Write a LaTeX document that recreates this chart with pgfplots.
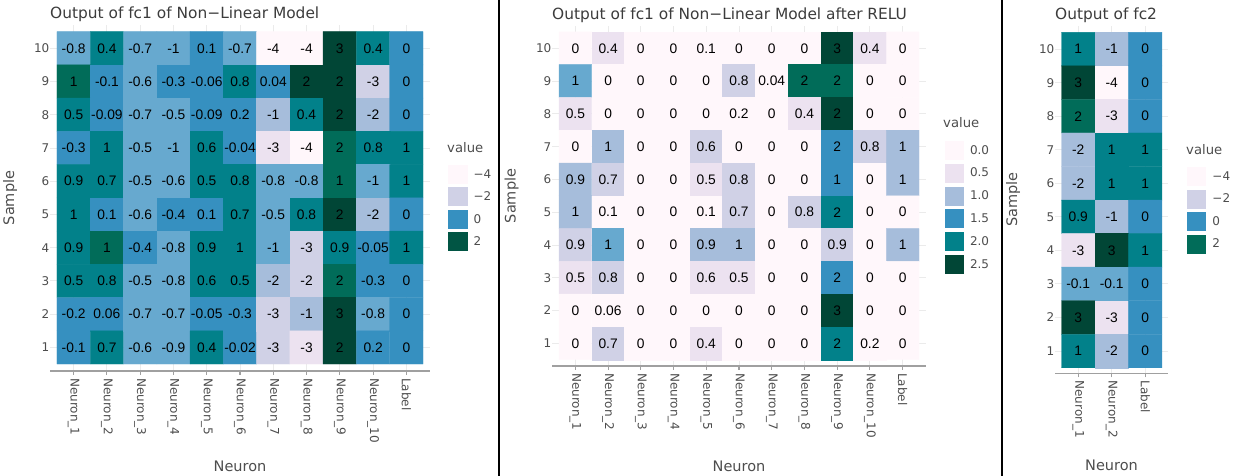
\documentclass[border=0pt]{standalone}
\usepackage{pgfplots}
\usepackage{pgfplotstable}
\pgfplotsset{compat=1.18}
\usepackage{fontspec}
\setmainfont{DejaVu Sans}
\newfontfamily\cellfont{Liberation Sans}

\definecolor{txt}{HTML}{4D4D4D}
\definecolor{ttl}{HTML}{3C3C3C}
\definecolor{gridc}{HTML}{EBEBEB}
\definecolor{axc}{HTML}{A0A0A0}
\definecolor{cA}{HTML}{FFF7FB}
\definecolor{cB}{HTML}{ECE2F0}
\definecolor{cC}{HTML}{D0D1E6}
\definecolor{cD}{HTML}{A6BDDB}
\definecolor{cE}{HTML}{67A9CF}
\definecolor{cF}{HTML}{3690C0}
\definecolor{cG}{HTML}{02818A}
\definecolor{cH}{HTML}{016C59}
\definecolor{cI}{HTML}{014636}

% fc1 output: c = estimated value (drives colour), lab = printed value
\pgfplotstableread[row sep=\\]{
x y c lab\\
1 10 -0.8 -0.8\\ 2 10 0.4 0.4\\ 3 10 -0.7 -0.7\\ 4 10 -0.95 -1\\ 5 10 0.1 0.1\\ 6 10 -0.7 -0.7\\ 7 10 -4 -4\\ 8 10 -4 -4\\ 9 10 3 3\\ 10 10 0.4 0.4\\ 11 10 0 0\\
1 9 1.25 1\\ 2 9 -0.1 -0.1\\ 3 9 -0.6 -0.6\\ 4 9 -0.3 -0.3\\ 5 9 -0.06 -0.06\\ 6 9 0.8 0.8\\ 7 9 0.04 0.04\\ 8 9 2.25 2\\ 9 9 2.25 2\\ 10 9 -2.6 -3\\ 11 9 0 0\\
1 8 0.5 0.5\\ 2 8 -0.09 -0.09\\ 3 8 -0.7 -0.7\\ 4 8 -0.5 -0.5\\ 5 8 -0.09 -0.09\\ 6 8 0.2 0.2\\ 7 8 -1.2 -1\\ 8 8 0.4 0.4\\ 9 8 2.45 2\\ 10 8 -1.8 -2\\ 11 8 0 0\\
1 7 -0.3 -0.3\\ 2 7 1.0 1\\ 3 7 -0.5 -0.5\\ 4 7 -0.95 -1\\ 5 7 0.63 0.6\\ 6 7 -0.04 -0.04\\ 7 7 -3.0 -3\\ 8 7 -4 -4\\ 9 7 1.5 2\\ 10 7 0.8 0.8\\ 11 7 1 1\\
1 6 0.93 0.9\\ 2 6 0.7 0.7\\ 3 6 -0.5 -0.5\\ 4 6 -0.6 -0.6\\ 5 6 0.5 0.5\\ 6 6 0.84 0.8\\ 7 6 -0.8 -0.8\\ 8 6 -0.8 -0.8\\ 9 6 1.4 1\\ 10 6 -0.95 -1\\ 11 6 1 1\\
1 5 1.0 1\\ 2 5 0.1 0.1\\ 3 5 -0.6 -0.6\\ 4 5 -0.4 -0.4\\ 5 5 0.1 0.1\\ 6 5 0.7 0.7\\ 7 5 -0.5 -0.5\\ 8 5 0.8 0.8\\ 9 5 2.0 2\\ 10 5 -1.8 -2\\ 11 5 0 0\\
1 4 0.87 0.9\\ 2 4 1.2 1\\ 3 4 -0.4 -0.4\\ 4 4 -0.8 -0.8\\ 5 4 0.93 0.9\\ 6 4 1.0 1\\ 7 4 -0.95 -1\\ 8 4 -2.6 -3\\ 9 4 0.87 0.9\\ 10 4 -0.05 -0.05\\ 11 4 1 1\\
1 3 0.5 0.5\\ 2 3 0.8 0.8\\ 3 3 -0.5 -0.5\\ 4 3 -0.8 -0.8\\ 5 3 0.58 0.6\\ 6 3 0.5 0.5\\ 7 3 -1.8 -2\\ 8 3 -2.3 -2\\ 9 3 1.5 2\\ 10 3 -0.3 -0.3\\ 11 3 0 0\\
1 2 -0.2 -0.2\\ 2 2 0.06 0.06\\ 3 2 -0.7 -0.7\\ 4 2 -0.7 -0.7\\ 5 2 -0.05 -0.05\\ 6 2 -0.3 -0.3\\ 7 2 -2.6 -3\\ 8 2 -1.2 -1\\ 9 2 3 3\\ 10 2 -0.8 -0.8\\ 11 2 0 0\\
1 1 -0.1 -0.1\\ 2 1 0.7 0.7\\ 3 1 -0.6 -0.6\\ 4 1 -0.9 -0.9\\ 5 1 0.4 0.4\\ 6 1 -0.02 -0.02\\ 7 1 -2.6 -3\\ 8 1 -3.0 -3\\ 9 1 2.0 2\\ 10 1 0.2 0.2\\ 11 1 0 0\\
}\fcone

% fc1 output after RELU
\pgfplotstableread[row sep=\\]{
x y c lab\\
1 10 0 0\\ 2 10 0.4 0.4\\ 3 10 0 0\\ 4 10 0 0\\ 5 10 0.1 0.1\\ 6 10 0 0\\ 7 10 0 0\\ 8 10 0 0\\ 9 10 3 3\\ 10 10 0.4 0.4\\ 11 10 0 0\\
1 9 1.25 1\\ 2 9 0 0\\ 3 9 0 0\\ 4 9 0 0\\ 5 9 0 0\\ 6 9 0.8 0.8\\ 7 9 0.04 0.04\\ 8 9 2.25 2\\ 9 9 2.25 2\\ 10 9 0 0\\ 11 9 0 0\\
1 8 0.5 0.5\\ 2 8 0 0\\ 3 8 0 0\\ 4 8 0 0\\ 5 8 0 0\\ 6 8 0.2 0.2\\ 7 8 0 0\\ 8 8 0.4 0.4\\ 9 8 2.45 2\\ 10 8 0 0\\ 11 8 0 0\\
1 7 0 0\\ 2 7 1.0 1\\ 3 7 0 0\\ 4 7 0 0\\ 5 7 0.63 0.6\\ 6 7 0 0\\ 7 7 0 0\\ 8 7 0 0\\ 9 7 1.5 2\\ 10 7 0.8 0.8\\ 11 7 1 1\\
1 6 0.93 0.9\\ 2 6 0.7 0.7\\ 3 6 0 0\\ 4 6 0 0\\ 5 6 0.5 0.5\\ 6 6 0.84 0.8\\ 7 6 0 0\\ 8 6 0 0\\ 9 6 1.4 1\\ 10 6 0 0\\ 11 6 1 1\\
1 5 1.0 1\\ 2 5 0.1 0.1\\ 3 5 0 0\\ 4 5 0 0\\ 5 5 0.1 0.1\\ 6 5 0.7 0.7\\ 7 5 0 0\\ 8 5 0.8 0.8\\ 9 5 2.0 2\\ 10 5 0 0\\ 11 5 0 0\\
1 4 0.87 0.9\\ 2 4 1.2 1\\ 3 4 0 0\\ 4 4 0 0\\ 5 4 0.93 0.9\\ 6 4 1.0 1\\ 7 4 0 0\\ 8 4 0 0\\ 9 4 0.87 0.9\\ 10 4 0 0\\ 11 4 1 1\\
1 3 0.5 0.5\\ 2 3 0.8 0.8\\ 3 3 0 0\\ 4 3 0 0\\ 5 3 0.58 0.6\\ 6 3 0.5 0.5\\ 7 3 0 0\\ 8 3 0 0\\ 9 3 1.5 2\\ 10 3 0 0\\ 11 3 0 0\\
1 2 0 0\\ 2 2 0.06 0.06\\ 3 2 0 0\\ 4 2 0 0\\ 5 2 0 0\\ 6 2 0 0\\ 7 2 0 0\\ 8 2 0 0\\ 9 2 3 3\\ 10 2 0 0\\ 11 2 0 0\\
1 1 0 0\\ 2 1 0.7 0.7\\ 3 1 0 0\\ 4 1 0 0\\ 5 1 0.4 0.4\\ 6 1 0 0\\ 7 1 0 0\\ 8 1 0 0\\ 9 1 2.0 2\\ 10 1 0.2 0.2\\ 11 1 0 0\\
}\fcrelu

% fc2 output
\pgfplotstableread[row sep=\\]{
x y c lab\\
1 10 1 1\\ 2 10 -1 -1\\ 3 10 0 0\\
1 9 3 3\\ 2 9 -4 -4\\ 3 9 0 0\\
1 8 2 2\\ 2 8 -3 -3\\ 3 8 0 0\\
1 7 -2 -2\\ 2 7 1 1\\ 3 7 1 1\\
1 6 -2 -2\\ 2 6 1 1\\ 3 6 1 1\\
1 5 0.9 0.9\\ 2 5 -1 -1\\ 3 5 0 0\\
1 4 -3 -3\\ 2 4 3 3\\ 3 4 1 1\\
1 3 -0.1 -0.1\\ 2 3 -0.1 -0.1\\ 3 3 0 0\\
1 2 3 3\\ 2 2 -3 -3\\ 3 2 0 0\\
1 1 1 1\\ 2 1 -2 -2\\ 3 1 0 0\\
}\fctwo

\pgfplotsset{
  colormap={mapone}{color(0pt)=(cA) color(10pt)=(cA) color(14pt)=(cB) color(22pt)=(cB)
    color(26pt)=(cC) color(36pt)=(cC) color(40pt)=(cD) color(60pt)=(cD)
    color(61pt)=(cE) color(70pt)=(cE) color(71pt)=(cF) color(85pt)=(cF)
    color(87pt)=(cG) color(101pt)=(cG) color(103pt)=(cH) color(112pt)=(cH)
    color(116pt)=(cI) color(150pt)=(cI)},
  colormap={maprelu}{color(0pt)=(cA) color(10pt)=(cA) color(14pt)=(cB) color(24pt)=(cB)
    color(25pt)=(cC) color(35pt)=(cC) color(36pt)=(cD) color(44pt)=(cD)
    color(46pt)=(cE) color(52pt)=(cE) color(55pt)=(cF) color(68pt)=(cF)
    color(72pt)=(cG) color(84pt)=(cG) color(88pt)=(cH) color(94pt)=(cH)
    color(97pt)=(cI) color(128pt)=(cI)},
  colormap={maptwo}{color(0pt)=(cA) color(10pt)=(cA) color(14pt)=(cB) color(28pt)=(cB)
    color(30pt)=(cC) color(36pt)=(cC) color(38pt)=(cD) color(62pt)=(cD)
    color(64pt)=(cE) color(78pt)=(cE) color(79pt)=(cF) color(86pt)=(cF)
    color(90pt)=(cG) color(104pt)=(cG) color(110pt)=(cH) color(124pt)=(cH)
    color(130pt)=(cI) color(150pt)=(cI)},
  heat/.style={
    scale only axis, anchor=south west, clip=false,
    axis x line*=bottom, axis y line*=left,
    x axis line style={draw=axc, line width=1.3pt},
    y axis line style={draw=none},
    tick align=outside, major tick length=4pt,
    xtick style={draw=axc, line width=1.1pt},
    ytick style={draw=none},
    xmajorgrids, ymajorgrids,
    major grid style={draw=gridc, line width=0.9pt},
    ytick={1,...,10},
    yticklabels={1,2,3,4,5,6,7,8,9,10},
    tick label style={font=\fontsize{12}{14}\selectfont, text=txt},
    xticklabel style={rotate=-90, anchor=west, inner sep=0pt},
    xticklabel shift=3pt,
    yticklabel style={anchor=east, inner sep=0pt, xshift=3.5pt},
    xlabel=Neuron, ylabel=Sample,
    label style={font=\fontsize{14.5}{17}\selectfont, text=txt},
    title style={font=\fontsize{15.4}{18}\selectfont, text=ttl,
      at={(axis description cs:0,1)}, anchor=base west, inner sep=0pt, yshift=0.5pt},
    point meta=explicit,
    legend style={draw=none, fill=none, anchor=north west, inner sep=0pt, outer sep=0pt,
      column sep=6pt, font=\fontsize{12}{14}\selectfont, text=txt, nodes={inner sep=0pt}},
    legend cell align=left,
    legend image code/.code={\path[##1, draw=none] (0pt,-9.5pt) rectangle (19.5pt,9.5pt);},
  },
  cellnum/.style={only marks, mark=none, forget plot, point meta=explicit symbolic,
    nodes near coords,
    nodes near coords style={anchor=center, inner sep=0pt, text=black,
      font=\cellfont\fontsize{13.8}{16}\selectfont}},
}

\begin{document}
\begin{tikzpicture}
\useasboundingbox (0pt,0pt) rectangle (1235pt,476pt);

\begin{axis}[heat, at={(50pt,105pt)}, width=380pt, height=346pt,
  xmin=0.29, xmax=11.71, ymin=0.29, ymax=10.7,
  xtick={1,...,11},
  xticklabels={Neuron\_1,Neuron\_2,Neuron\_3,Neuron\_4,Neuron\_5,Neuron\_6,Neuron\_7,Neuron\_8,Neuron\_9,Neuron\_10,Label},
  colormap name=mapone, point meta min=-4, point meta max=3.5,
  title={Output of fc1 of Non−Linear Model},
  xlabel style={at={(axis description cs:0.5,0)}, anchor=base, yshift=-101pt},
  ylabel style={at={([xshift=-36pt]axis description cs:0,0.5)}, anchor=base},
  legend style={at={(axis description cs:1.0474,0.5954)}, row sep=3.5pt},
]
\addplot[matrix plot*, mesh/cols=11, forget plot] table[x=x, y=y, meta=c] {\fcone};
\addplot[cellnum] table[x=x, y=y, meta=lab] {\fcone};
\addlegendimage{fill=cA}\addlegendentry{−4}
\addlegendimage{fill=cC}\addlegendentry{−2}
\addlegendimage{fill=cF}\addlegendentry{0}
\addlegendimage{fill=cI!60!cH}\addlegendentry{2}
\end{axis}

\begin{axis}[heat, at={(552pt,110pt)}, width=374pt, height=340pt,
  xmin=0.286, xmax=11.714, ymin=0.308, ymax=10.68,
  xtick={1,...,11},
  xticklabels={Neuron\_1,Neuron\_2,Neuron\_3,Neuron\_4,Neuron\_5,Neuron\_6,Neuron\_7,Neuron\_8,Neuron\_9,Neuron\_10,Label},
  colormap name=maprelu, point meta min=0, point meta max=3.2,
  title={Output of fc1 of Non−Linear Model after RELU},
  xlabel style={at={(axis description cs:0.5,0)}, anchor=base, yshift=-106pt},
  ylabel style={at={([xshift=-36.5pt]axis description cs:0,0.5)}, anchor=base},
  legend style={at={(axis description cs:1.0508,0.6618)}, row sep=3.8pt},
  legend image code/.code={\path[#1, draw=none] (0pt,-9.5pt) rectangle (19pt,9.5pt);},
]
\addplot[matrix plot*, mesh/cols=11, forget plot] table[x=x, y=y, meta=c] {\fcrelu};
\addplot[cellnum] table[x=x, y=y, meta=lab] {\fcrelu};
\addlegendimage{fill=cA}\addlegendentry{0.0}
\addlegendimage{fill=cB}\addlegendentry{0.5}
\addlegendimage{fill=cD}\addlegendentry{1.0}
\addlegendimage{fill=cF}\addlegendentry{1.5}
\addlegendimage{fill=cG}\addlegendentry{2.0}
\addlegendimage{fill=cI}\addlegendentry{2.5}
\end{axis}

\begin{axis}[heat, at={(1055pt,102.7pt)}, width=113pt, height=347.3pt,
  xmin=0.306, xmax=3.68, ymin=0.336, ymax=10.69,
  xtick={1,2,3},
  xticklabels={Neuron\_1,Neuron\_2,Label},
  colormap name=maptwo, point meta min=-4, point meta max=3.5,
  title={Output of fc2},
  xlabel style={at={(axis description cs:0.5,0)}, anchor=base, yshift=-97pt},
  ylabel style={at={([xshift=-38pt]axis description cs:0,0.5)}, anchor=base},
  legend style={at={(axis description cs:1.168,0.594)}, row sep=3.5pt},
]
\addplot[matrix plot*, mesh/cols=3, forget plot] table[x=x, y=y, meta=c] {\fctwo};
\addplot[cellnum] table[x=x, y=y, meta=lab] {\fctwo};
\addlegendimage{fill=cA}\addlegendentry{−4}
\addlegendimage{fill=cC}\addlegendentry{−2}
\addlegendimage{fill=cF}\addlegendentry{0}
\addlegendimage{fill=cH}\addlegendentry{2}
\end{axis}

% legend titles and panel separators
\begin{scope}[every node/.style={anchor=west, inner sep=0pt, text=txt, font=\fontsize{13.2}{15}\selectfont}]
\node at (447pt,328pt) {value};
\node at (943pt,353pt) {value};
\node at (1186pt,326pt) {value};
\end{scope}
\draw[black, line width=2pt] (499pt,0pt) -- (499pt,476pt);
\draw[black, line width=2pt] (1002pt,0pt) -- (1002pt,476pt);
\end{tikzpicture}
\end{document}
